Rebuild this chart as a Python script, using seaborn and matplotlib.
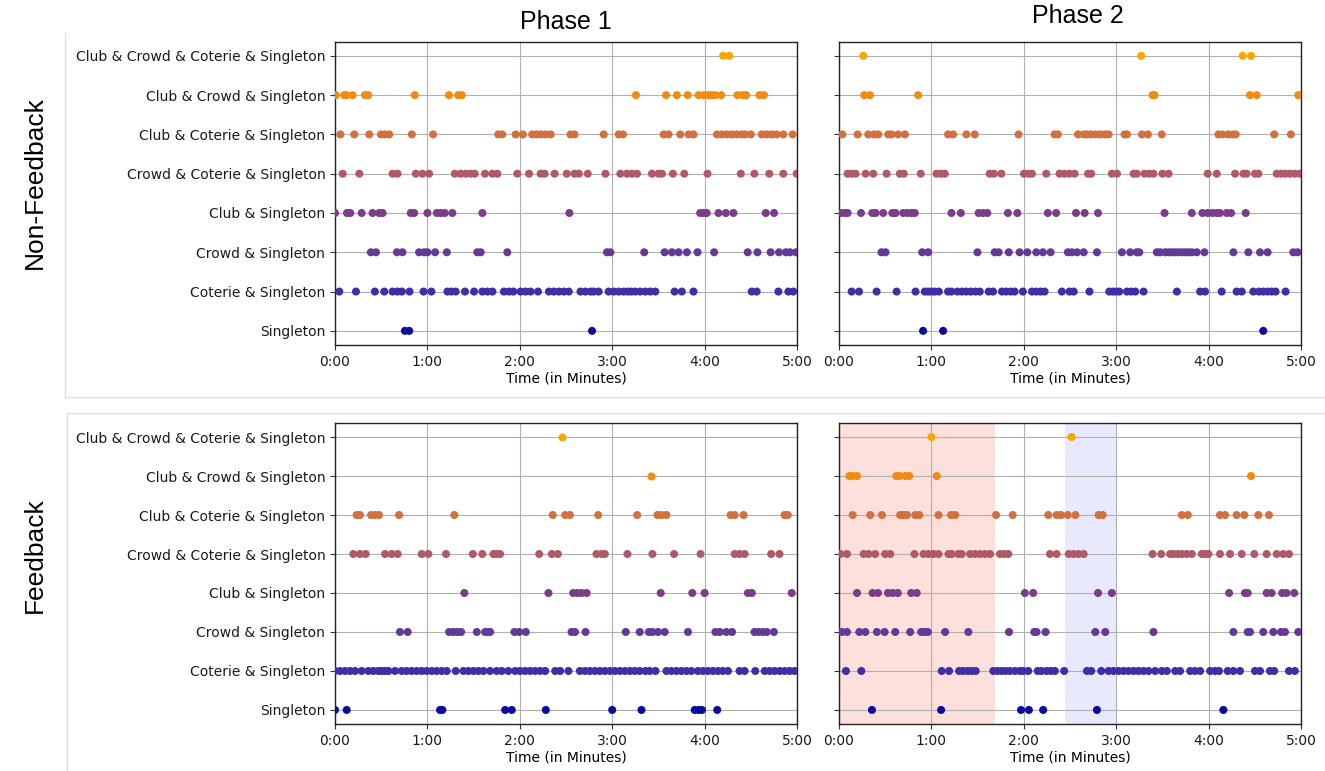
import pandas as pd
import matplotlib.pyplot as plt
import seaborn as sns
from matplotlib.ticker import FuncFormatter

# categories, top to bottom
kinds = ["Club & Crowd & Coterie & Singleton", "Club & Crowd & Singleton",
         "Club & Coterie & Singleton", "Crowd & Coterie & Singleton",
         "Club & Singleton", "Crowd & Singleton", "Coterie & Singleton", "Singleton"]
kind_colors = ["#f7a700", "#f08c12", "#d27040", "#b05a68",
               "#7c3d88", "#643a97", "#3f2ea5", "#0b0b9e"]

## NON-FEEDBACK, PHASE 1 (seconds) ..........................................
nf1_all = [252, 256]
nf1_club_crowd = [0.6, 6, 7.5, 11.4, 19.4, 21.6, 51.8, 74, 80, 82.3, 195.4, 215, 222, 229, 236, 239.3,
                  242.5, 244.7, 247, 250.7, 261.3, 264.8, 267, 275.6, 278.6]
nf1_club_coterie = [3.5, 12.5, 22.2, 29.8, 32.4, 35.2, 49.9, 63.7, 106, 108.6, 117.3, 122, 128, 130.9,
                    133.5, 136.7, 140, 152.9, 155.5, 174.5, 184.2, 187, 213.4, 216.6, 224.2, 229.6,
                    232.8, 248, 251.2, 254.4, 257.6, 260.9, 264.1, 266.3, 270, 277.1, 280.3, 283.6,
                    286.8, 291.1, 297.2]
nf1_crowd_coterie = [5, 15.8, 37.4, 40.6, 52.5, 56.8, 61.1, 77.8, 81.6, 85, 88.1, 90.7, 97.4, 102.2,
                     105.4, 118.4, 126, 133.5, 136.1, 142.6, 150.5, 155.5, 158.3, 164.1, 175.6, 185.3,
                     189.6, 192.8, 196.1, 205.8, 210.1, 212.3, 219.4, 226.8, 241.9, 263.5, 272.3, 282,
                     291.1, 299.8]
nf1_club = [0, 7.8, 9.9, 17.3, 24.4, 28.7, 30.9, 49.2, 51.4, 60, 66.1, 68.7, 71.3, 76.2, 95.7, 152.2,
            237.1, 239.3, 241.4, 249, 253.8, 258.7, 279.7, 285.1]
nf1_crowd = [23.3, 26.6, 40.2, 43.8, 54.6, 57.9, 60, 65, 72.6, 92.4, 94.6, 111.9, 176.6, 178.8, 200.8,
             214, 218.8, 223.1, 228.5, 235.4, 246.2, 268, 274.3, 282.9, 288.3, 292.8, 295.4, 299.3]
nf1_coterie = [2.8, 13.6, 25.9, 32, 37.4, 40.6, 43.4, 48.4, 57.5, 62.6, 73, 75.6, 78.4, 84.4, 90.3, 95.7,
               98.9, 102.2, 109.7, 113, 115.8, 120.5, 123.8, 127, 131.8, 138.9, 142.1, 145.4, 148.6,
               151.8, 159.4, 162.6, 166, 168, 171.2, 177.7, 181, 184.2, 187.4, 190, 192.4, 195, 198.2,
               201.5, 204.7, 208, 220.5, 225.2, 232.8, 270.6, 273.8, 287.9, 294.4, 297.6]
nf1_singleton = [45.4, 48.2, 166.9]

## NON-FEEDBACK, PHASE 2 ....................................................
nf2_all = [15.8, 196.2, 262.1, 267.5]
nf2_club_crowd = [16.4, 20.1, 51.4, 203.6, 204.9, 266.9, 271.2, 298.2]
nf2_club_coterie = [2.2, 12.1, 19, 22.9, 25.5, 32, 34.1, 38.4, 42.8, 70.8, 74.1, 82.7, 88.1, 116.6, 140,
                    142.1, 155.2, 158.9, 161, 163.5, 166.4, 169.7, 172.9, 175.1, 185.4, 187, 196.7,
                    200.6, 209.6, 246.4, 249, 252.8, 255.6, 257.6, 282.6, 293.4]
nf2_crowd_coterie = [5.6, 8.2, 10.8, 17.3, 22.2, 30.9, 39.5, 42.1, 53.1, 63.3, 66.1, 68.7, 97.8, 100.6,
                     105.4, 120.1, 123.1, 125.3, 134.6, 143.2, 146.4, 149.5, 153, 161.7, 163.8, 177.2,
                     180.5, 191.3, 193.4, 198.4, 201.4, 204.2, 210, 214, 239.4, 245.3, 257.2, 262.6,
                     264.7, 270.1, 272.3, 284.2, 287, 289.6, 292.8, 296, 299.3]
nf2_club = [1.3, 3.9, 5.6, 14.3, 21.6, 23.8, 28.7, 34.6, 36.7, 41.7, 44.5, 47.1, 49.2, 73, 79.1, 90.7,
            93.5, 96.3, 109.7, 115.8, 135.6, 141, 153.9, 159.5, 168.2, 211.4, 229.1, 236, 239.4, 242.5,
            245.3, 247.4, 251.8, 254.6, 264.1]
nf2_crowd = [27.6, 30.2, 54, 57.9, 89.9, 101.1, 103.7, 110.2, 117.3, 122.3, 128.1, 132.4, 137.4, 148.6,
             151.2, 154.6, 158.9, 167.5, 183.7, 189.1, 193.4, 195, 206.4, 208.6, 211.8, 214, 216.1,
             218.3, 220.4, 222.6, 224.8, 226.9, 229.1, 232.3, 237.3, 256.1, 265.8, 273.4, 278.3, 295,
             297.8]
nf2_coterie = [8.2, 13, 24.4, 37.4, 49.7, 55.7, 57.9, 60, 62.2, 64.8, 70.8, 73, 76.9, 79.9, 82.7, 85.5,
               88.6, 91.4, 97.2, 100, 105.8, 108.6, 111.5, 114, 119.4, 125.3, 128.1, 130.9, 133.5,
               144.7, 149.7, 152.4, 162.6, 175.5, 177.7, 179.8, 182, 187, 189.8, 192.4, 197.8, 219.4,
               234.5, 237.7, 248.5, 258.2, 261.5, 269, 272.7, 275.5, 278.3, 280.9, 283.5, 290]
nf2_singleton = [54.6, 67.6, 275.5]

## FEEDBACK, PHASE 1 ........................................................
f1_all = [147.7]
f1_club_crowd = [205]
f1_club_coterie = [14.1, 16.2, 23.4, 26, 28.6, 41.6, 77.5, 141.4, 149.5, 152.6, 170.9, 196.2, 209.4, 212,
                   215.2, 256.9, 259.5, 265.3, 291.9, 294]
f1_crowd_coterie = [11.9, 16.2, 19.9, 32.5, 36.8, 40.7, 56.3, 60.6, 72.1, 89.5, 95.7, 102.9, 105, 107.2,
                    132.6, 140.8, 144.7, 169.8, 173.1, 175.2, 189.9, 206.1, 220.2, 237.4, 259.5, 262.7,
                    266, 283.2, 288.6]
f1_club = [84, 138.6, 154.7, 157.5, 160.1, 163.4, 211.5, 232, 240, 268.1, 270.7, 296.6]
f1_crowd = [42.2, 47.2, 74.1, 76.9, 79.5, 81.9, 92.1, 97.5, 99.2, 100.7, 116.5, 119.6, 123.9, 153.6,
            155.8, 162.7, 188.8, 197.9, 203.8, 206.1, 209.8, 214.1, 229.2, 247, 249.8, 254.1, 257.8,
            272.4, 275, 277.8, 280.4, 285]
f1_coterie = [0, 3.2, 6.5, 9.7, 13, 17.3, 21.7, 24.9, 28.2, 30.3, 32.5, 34.7, 39, 43.3, 46.5, 49.8, 53,
              56.3, 59.5, 62.8, 66, 69.3, 72.6, 78.4, 83.4, 86.6, 89.9, 93.1, 96.4, 100.7, 105, 108.3,
              112.6, 117, 120.2, 123.5, 126.7, 130, 133.2, 136.5, 143, 146.2, 151.6, 159, 162.3, 165.5,
              168.8, 172, 175.2, 178.5, 181.7, 185, 188.2, 191.5, 194.7, 197.9, 201.6, 204.4, 208.1,
              215.2, 218.4, 221.7, 224.9, 228.2, 231.4, 235.7, 238.9, 242.2, 245.4, 248.7, 251.9,
              255.2, 262.7, 266, 272.9, 279, 282.3, 285.5, 288.8, 292, 295.2, 298.4]
f1_singleton = [0, 7.6, 68.2, 69.7, 110.5, 114.8, 136.9, 180, 199, 233.6, 236.2, 238.3, 248.2]

## FEEDBACK, PHASE 2 ........................................................
f2_all = [60, 151]
f2_club_crowd = [6.7, 8.9, 11.7, 37.2, 39.3, 43, 45.6, 63.5, 267.5]
f2_club_coterie = [8.9, 20.3, 27.9, 39.7, 41.9, 44.1, 49.5, 52.1, 64.6, 72.8, 75.4, 102, 112.8, 135.9,
                   141.3, 144.1, 148.5, 153.5, 168.6, 171.2, 222.6, 226.5, 247.4, 250.7, 258.2, 263.2,
                   272.3, 279.2]
f2_crowd_coterie = [0.9, 5.2, 16, 19.2, 23.5, 30, 33.3, 49, 54.9, 58.1, 61.3, 64.6, 71.1, 73.2, 77.5,
                    79.7, 85.1, 88.3, 91.6, 94.8, 98.1, 104.5, 107.4, 109.9, 137, 141.3, 149.2, 152.4,
                    155.6, 158.9, 203.6, 209.2, 215, 217.2, 220, 222.6, 225.8, 229.1, 235.6, 237.7,
                    239.9, 247.4, 253.9, 261.5, 269.7, 277.7, 284.2, 288.5, 292.2]
f2_club = [11.7, 21.8, 25.3, 31.8, 34.8, 38.2, 46.9, 50.5, 120.7, 126.1, 168.2, 177.2, 253.3, 263.6,
           265.4, 277.7, 280.9, 287.8, 290.6, 295.6]
f2_crowd = [1.9, 5.2, 13.2, 17.1, 24.6, 29.6, 36.5, 46.2, 53.4, 55.9, 57.7, 68.9, 84, 110.4, 126.8,
            128.3, 134.1, 166.4, 172.9, 204.2, 256.1, 265.4, 266.9, 275.5, 282, 287, 289.6, 298.2]
f2_coterie = [4.5, 14.5, 66.7, 71.5, 78, 80.8, 83.6, 86.2, 88.8, 100.2, 103, 105.6, 108.2, 111, 114.3,
              117.5, 119.7, 122.9, 129, 131.5, 134.8, 137.6, 140.2, 146.2, 161, 163.8, 170.3, 175.1,
              178.3, 181.6, 184.8, 188, 191.3, 194.5, 197.8, 201, 205.3, 209.6, 212.9, 218.3, 221.5,
              228, 231.2, 234.5, 241, 244.2, 246.8, 252.4, 256.1, 260.4, 270.1, 273.4, 279.8, 282.6,
              292.2, 296]
f2_singleton = [21.4, 66.3, 118.2, 123.3, 132.6, 167.5, 249.6]

# highlighted intervals in feedback / phase 2 (seconds)
red_span = (0, 101)
blue_span = (146.6, 180)

panels = {
    "nf1": [nf1_all, nf1_club_crowd, nf1_club_coterie, nf1_crowd_coterie, nf1_club, nf1_crowd, nf1_coterie, nf1_singleton],
    "nf2": [nf2_all, nf2_club_crowd, nf2_club_coterie, nf2_crowd_coterie, nf2_club, nf2_crowd, nf2_coterie, nf2_singleton],
    "f1": [f1_all, f1_club_crowd, f1_club_coterie, f1_crowd_coterie, f1_club, f1_crowd, f1_coterie, f1_singleton],
    "f2": [f2_all, f2_club_crowd, f2_club_coterie, f2_crowd_coterie, f2_club, f2_crowd, f2_coterie, f2_singleton],
}


def to_frame(series):
    rows = []
    for k, vals in zip(kinds, series):
        rows += [(v, k) for v in vals]
    return pd.DataFrame(rows, columns=["time", "kind"])


def mmss(v, pos):
    v = int(round(v))
    return f"{v // 60}:{v % 60:02d}"


sns.set_style("ticks")
plt.rcParams['font.family'] = ['DejaVu Sans']
plt.rcParams['text.color'] = 'black'
plt.rcParams['axes.labelcolor'] = 'black'
plt.rcParams['xtick.color'] = 'black'
plt.rcParams['ytick.color'] = 'black'

fig = plt.figure(figsize=(13.25, 7.71), dpi=100)
W, H = 1325, 771
boxes = {"nf1": (335, 41.7, 797, 345), "nf2": (839, 41.7, 1301, 345),
         "f1": (335, 423, 797, 724), "f2": (839, 423, 1301, 724)}
palette = dict(zip(kinds, kind_colors))

for name, (x0, y0, x1, y1) in boxes.items():
    ax = fig.add_axes([x0 / W, 1 - y1 / H, (x1 - x0) / W, (y1 - y0) / H])
    df = to_frame(panels[name])
    if name == "f2":
        ax.axvspan(*red_span, color="salmon", alpha=0.25, lw=0, zorder=0.2)
        ax.axvspan(*blue_span, color="blue", alpha=0.09, lw=0, zorder=0.2)
    sns.stripplot(data=df, x="time", y="kind", hue="kind", order=kinds, hue_order=kinds,
                  palette=palette, jitter=False, size=5.8, linewidth=0, legend=False, ax=ax, zorder=3)
    ax.set_xlim(0, 300)
    ax.set_ylim(7.36, -0.36)
    ax.set_xticks([0, 60, 120, 180, 240, 300])
    ax.xaxis.set_major_formatter(FuncFormatter(mmss))
    ax.set_axisbelow(True)
    ax.grid(True, color="#b0b0b0", lw=0.8)
    ax.set_xlabel("Time (in Minutes)", fontsize=10, labelpad=2)
    ax.set_ylabel("")
    ax.tick_params(labelsize=10, length=3.5, color="#333333", labelcolor="#1a1a1a")
    for s in ax.spines.values():
        s.set_visible(True)
        s.set_color("#222222")
        s.set_linewidth(1)
    if name in ("nf2", "f2"):
        ax.set_yticklabels([])

big = dict(family=["Liberation Sans", "DejaVu Sans"], ha="center", va="center", color="black")
fig.text(566 / W, 1 - 22 / H, "Phase 1", fontsize=18, **big)
fig.text(1078 / W, 1 - 16 / H, "Phase 2", fontsize=18, **big)
fig.text(35 / W, 1 - 183 / H, "Non-Feedback", rotation=90, fontsize=19, **big)
fig.text(35 / W, 1 - 555 / H, "Feedback", rotation=90, fontsize=19, **big)

# light frames of the two screenshot groups
frame = dict(transform=fig.transFigure, color="#dedede", lw=1)
fig.add_artist(plt.Line2D([65 / W, 65 / W], [1 - 33 / H, 1 - 397 / H], **frame))
fig.add_artist(plt.Line2D([65 / W, 1], [1 - 397 / H, 1 - 397 / H], **frame))
fig.add_artist(plt.Line2D([67 / W, 1], [1 - 413 / H, 1 - 413 / H], **frame))
fig.add_artist(plt.Line2D([67 / W, 67 / W], [1 - 413 / H, 0], **frame))

fig.savefig("out.png", dpi=100)
